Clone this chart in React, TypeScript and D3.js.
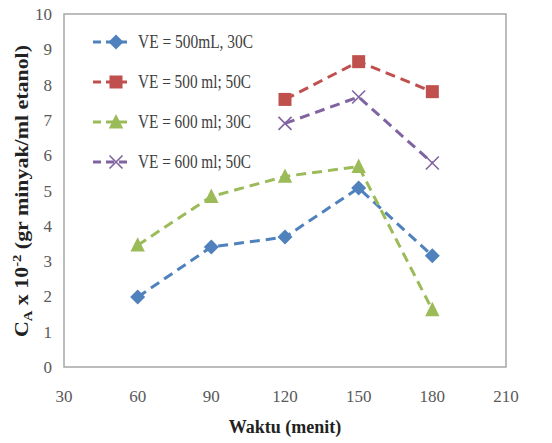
import React from "react";
import * as d3 from "d3";

const xTicks = [30, 60, 90, 120, 150, 180, 210];
const yTicks = [0, 1, 2, 3, 4, 5, 6, 7, 8, 9, 10];

const blueX = [60, 90, 120, 150, 180];
const blueY = [1.98, 3.4, 3.68, 5.07, 3.15];
const redX = [120, 150, 180];
const redY = [7.58, 8.65, 7.8];
const greenX = [60, 90, 120, 150, 180];
const greenY = [3.45, 4.83, 5.4, 5.68, 1.62];
const purpleX = [120, 150, 180];
const purpleY = [6.9, 7.65, 5.78];

const seriesNames = ["VE = 500mL, 30C", "VE = 500 ml; 50C", "VE = 600 ml; 30C", "VE = 600 ml; 50C"];
const colors = ["#4F81BD", "#C0504D", "#9BBB59", "#8064A2"];
const markers = ["diamond", "square", "triangle", "cross"];

const W = 552, H = 443;
const m = { left: 64, right: 506, top: 14, bottom: 367 };
const serif = "Liberation Serif";

function Marker({ type, x, y, color }: { type: string; x: number; y: number; color: string }) {
  if (type === "diamond") {
    const s = 7.5;
    return <path d={`M${x},${y - s}L${x + s},${y}L${x},${y + s}L${x - s},${y}Z`} fill={color} />;
  }
  if (type === "square") {
    const s = 6.5;
    return <rect x={x - s} y={y - s} width={2 * s} height={2 * s} fill={color} />;
  }
  if (type === "triangle") {
    const s = 8;
    return <path d={`M${x},${y - s}L${x + s * 0.9},${y + s * 0.8}L${x - s * 0.9},${y + s * 0.8}Z`} fill={color} />;
  }
  const s = 6.5;
  return (
    <path d={`M${x - s},${y - s}L${x + s},${y + s}M${x + s},${y - s}L${x - s},${y + s}`} stroke={color} strokeWidth={1.6} fill="none" />
  );
}

export default function App() {
  const x = d3.scaleLinear().domain([30, 210]).range([m.left, m.right]);
  const y = d3.scaleLinear().domain([0, 10]).range([m.bottom, m.top]);
  const series = [
    { xs: blueX, ys: blueY },
    { xs: redX, ys: redY },
    { xs: greenX, ys: greenY },
    { xs: purpleX, ys: purpleY },
  ];
  const line = d3.line<[number, number]>().x((d) => x(d[0])).y((d) => y(d[1]));
  const legendY = [42, 82, 122, 162];

  return (
    <svg width={W} height={H} fontFamily={serif} style={{ position: "absolute", left: 0, top: 0, background: "#fff" }}>
      <rect x={m.left} y={m.top} width={m.right - m.left} height={m.bottom - m.top} fill="none" stroke="#A6A6A6" strokeWidth={1.5} />
      {yTicks.map((t) => (
        <text key={"y" + t} x={52} y={y(t) + 6} textAnchor="end" fontFamily={serif} fontSize={17} fill="#595959">
          {t}
        </text>
      ))}
      {xTicks.map((t) => (
        <text key={"x" + t} x={x(t)} y={402} textAnchor="middle" fontFamily={serif} fontSize={17} fill="#595959">
          {t}
        </text>
      ))}
      {series.map((s, i) => {
        const pts = s.xs.map((v, j) => [v, s.ys[j]] as [number, number]);
        return (
          <g key={i}>
            <path d={line(pts) || ""} fill="none" stroke={colors[i]} strokeWidth={3} strokeDasharray="10,6" />
            {pts.map((p, j) => (
              <Marker key={j} type={markers[i]} x={x(p[0])} y={y(p[1])} color={colors[i]} />
            ))}
          </g>
        );
      })}
      {seriesNames.map((n, i) => (
        <g key={"l" + i}>
          <line x1={93} x2={127} y1={legendY[i]} y2={legendY[i]} stroke={colors[i]} strokeWidth={3} strokeDasharray="8,5" />
          <Marker type={markers[i]} x={116} y={legendY[i]} color={colors[i]} />
          <text x={138} y={legendY[i] + 6} fontFamily={serif} fontSize={18} fill="#404040" textLength={i === 0 ? 115 : 113} lengthAdjust="spacingAndGlyphs">
            {n}
          </text>
        </g>
      ))}
      <text x={285} y={433} textAnchor="middle" fontFamily={serif} fontSize={18} fontWeight="bold" fill="#222">
        Waktu (menit)
      </text>
      <text transform="translate(28,191) rotate(-90)" textAnchor="middle" fontFamily={serif} fontSize={18} fontWeight="bold" fill="#222" textLength={292} lengthAdjust="spacingAndGlyphs">
        C<tspan fontSize={12} dy={4}>A</tspan>
        <tspan dy={-4}> x 10</tspan>
        <tspan fontSize={12} dy={-7}>-2</tspan>
        <tspan dy={7}> (gr minyak/ml  etanol)</tspan>
      </text>
    </svg>
  );
}
